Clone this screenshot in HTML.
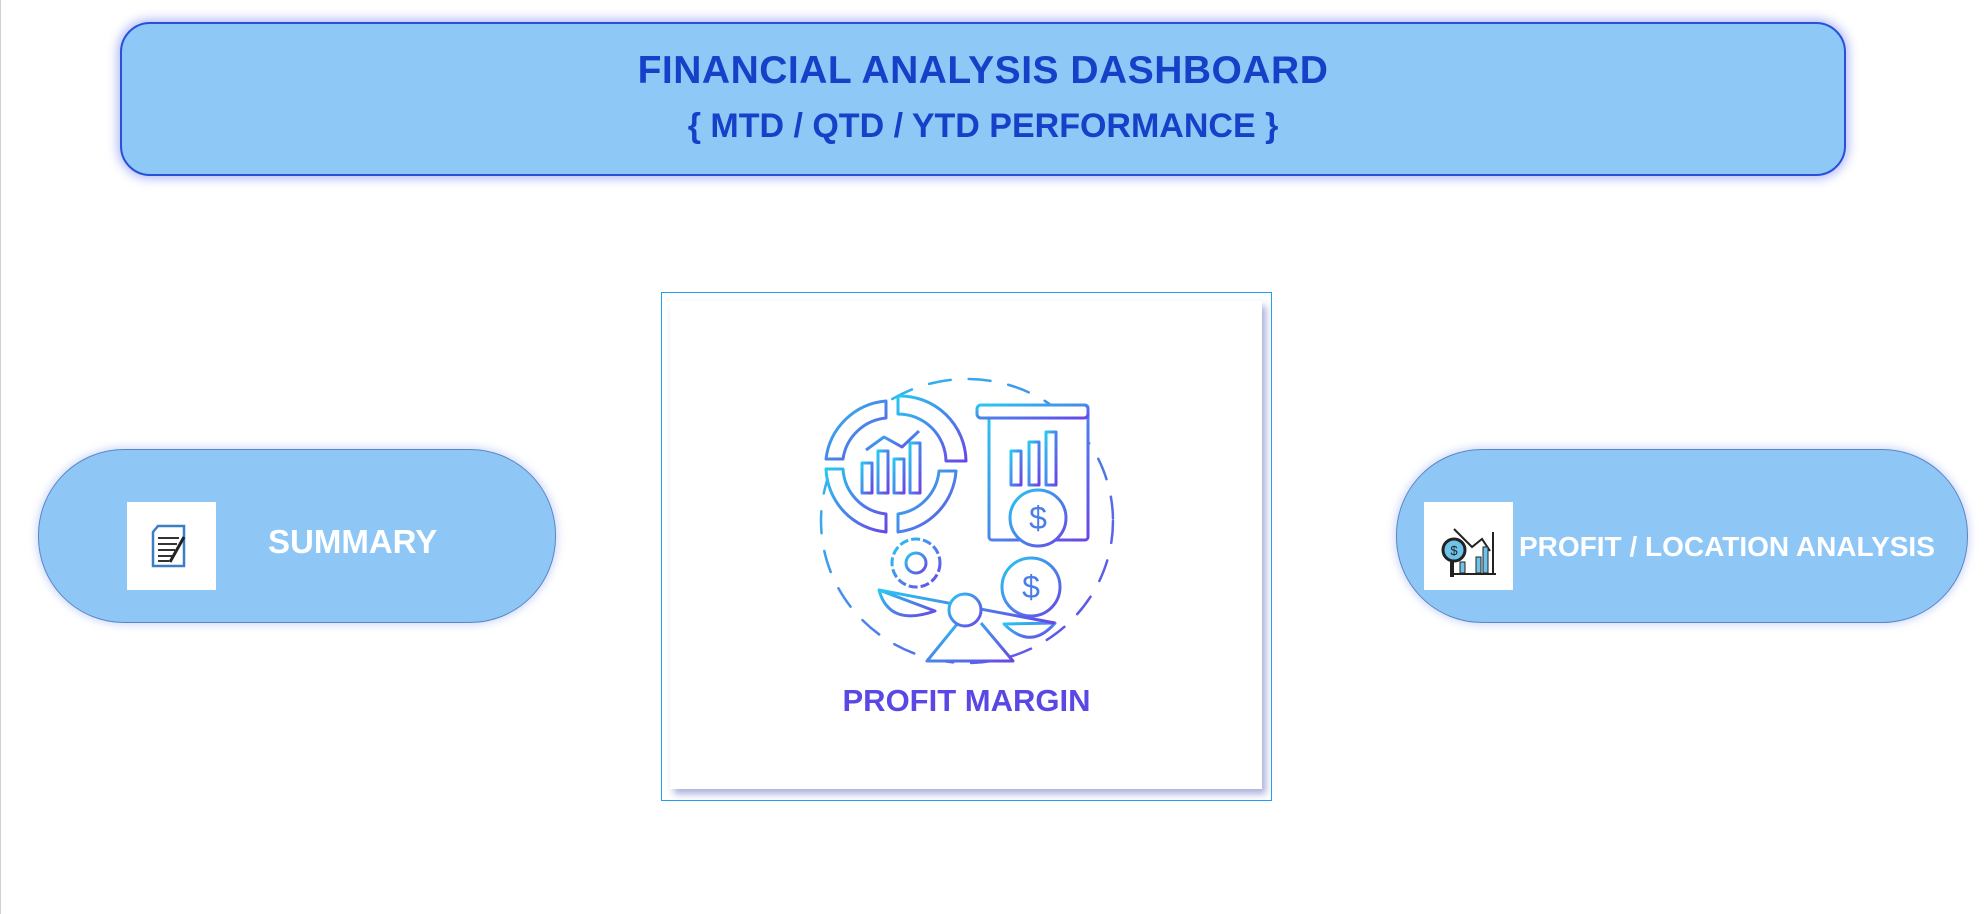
<!DOCTYPE html>
<html><head><meta charset="utf-8">
<style>
html,body{margin:0;padding:0;background:#fff;}
body{width:1988px;height:914px;position:relative;overflow:hidden;font-family:"Liberation Sans",sans-serif;}
.edge{position:absolute;left:0;top:0;width:1px;height:914px;background:#d0d0d0;}
.header{position:absolute;left:120px;top:22px;width:1722px;height:150px;background:#8ec8f6;border:2px solid #2a4fd8;border-radius:30px;box-shadow:0 0 10px 3px rgba(90,110,240,0.45);}
.t1{position:absolute;left:0;width:100%;top:25px;text-align:center;font-weight:bold;font-size:39px;color:#1640c8;letter-spacing:0.5px;}
.t2{position:absolute;left:0;width:100%;top:83px;text-align:center;font-weight:bold;font-size:34px;color:#1640c8;}
.pill{position:absolute;top:449px;height:172px;background:#8ec7f5;border:1.5px solid #5b86c4;border-radius:86px;box-shadow:0 0 8px 2px rgba(120,150,240,0.35);}
.ibox{position:absolute;top:502px;width:89px;height:88px;background:#fff;}
.ptext{position:absolute;color:#fff;font-weight:bold;}
.card{position:absolute;left:661px;top:292px;width:609px;height:507px;border:1.5px solid #1ea0f0;background:#fff;}
.inner{position:absolute;left:8px;top:8px;width:592px;height:488px;box-shadow:4px 5px 7px rgba(140,150,210,0.75);background:#fff;}
.pm{position:absolute;left:0;width:100%;top:390px;text-align:center;font-weight:bold;font-size:31px;color:#5a48e4;}
</style></head>
<body>
<div class="edge"></div>
<div class="header">
  <div class="t1">FINANCIAL ANALYSIS DASHBOARD</div>
  <div class="t2">{ MTD / QTD / YTD PERFORMANCE }</div>
</div>

<div class="pill" style="left:38px;width:516px;">
</div>
<div class="ibox" style="left:127px;">
  <svg width="89" height="88" viewBox="0 0 89 88">
    <path d="M26 30 L31 24 L57 24 L57 64 L26 64 Z" fill="none" stroke="#3a7fc4" stroke-width="2.5"/>
    <g stroke="#333" stroke-width="2"><line x1="31" y1="36" x2="52" y2="36"/><line x1="31" y1="42" x2="50" y2="42"/><line x1="31" y1="48" x2="48" y2="48"/><line x1="31" y1="54" x2="45" y2="54"/><line x1="31" y1="59" x2="42" y2="59"/></g>
    <line x1="43" y1="60" x2="57" y2="35" stroke="#222" stroke-width="3"/>
  </svg>
</div>
<div class="ptext" style="left:268px;top:523px;font-size:33px;">SUMMARY</div>

<div class="pill" style="left:1396px;width:570px;"></div>
<div class="ibox" style="left:1424px;">
  <svg width="89" height="88" viewBox="0 0 89 88">
    <polyline points="30,27 48,45 58,37 66,49" fill="none" stroke="#222" stroke-width="2"/>
    <line x1="69" y1="30" x2="69" y2="71" stroke="#222" stroke-width="2"/>
    <rect x="36" y="60" width="5" height="11" fill="#6ec3ea" stroke="#222"/>
    <rect x="52" y="55" width="5" height="16" fill="#6ec3ea" stroke="#222"/>
    <rect x="59" y="45" width="5" height="26" fill="#6ec3ea" stroke="#222"/>
    <line x1="30" y1="72" x2="72" y2="72" stroke="#222" stroke-width="2"/>
    <circle cx="30" cy="48" r="11" fill="#6ec3ea" stroke="#222" stroke-width="3"/>
    <text x="30" y="53" font-size="13" text-anchor="middle" fill="#222" font-family="Liberation Sans">$</text>
    <line x1="28" y1="60" x2="28" y2="75" stroke="#222" stroke-width="4"/>
  </svg>
</div>
<div class="ptext" style="left:1519px;top:531px;font-size:28px;">PROFIT / LOCATION ANALYSIS</div>

<div class="card">
  <div class="inner"></div>
  <svg style="position:absolute;left:0;top:0" width="609" height="507" viewBox="661 292 609 507">
    <defs><linearGradient id="g" x1="0" y1="0" x2="1" y2="1">
      <stop offset="0" stop-color="#27c8f0"/><stop offset="1" stop-color="#6a45e6"/></linearGradient></defs>
    <g fill="none" stroke="url(#g)" stroke-width="3" stroke-linecap="round">
      <ellipse cx="966" cy="520" rx="146" ry="142" stroke-dasharray="22 18" stroke-width="2.5"/>
    </g>
    <g fill="#fff" stroke="url(#g)" stroke-width="3" stroke-linejoin="round">
      <path d="M885 400 A66 66 0 0 0 825 458 L842 458 A48 48 0 0 1 885 417 Z"/>
      <path d="M825 468 A66 66 0 0 0 885 531 L885 513 A48 48 0 0 1 842 468 Z"/>
      <path d="M897 531 A66 66 0 0 0 955 470 L938 470 A48 48 0 0 1 897 513 Z"/>
      <path d="M897 395 A66 66 0 0 1 965 460 L945 460 A48 48 0 0 0 897 413 Z"/>
      <rect x="861" y="462" width="10" height="30"/><rect x="877" y="450" width="10" height="42"/><rect x="893" y="458" width="10" height="34"/><rect x="909" y="442" width="10" height="50"/>
      <polyline points="865,449 883,436 901,446 918,430" fill="none"/>
      <rect x="988" y="404" width="99" height="135" rx="3"/>
      <rect x="976" y="404" width="111" height="13" rx="4"/>
      <line x1="988" y1="496" x2="1087" y2="496"/>
      <circle cx="1037" cy="517" r="28"/>
      <rect x="1010" y="450" width="10" height="34"/><rect x="1028" y="441" width="10" height="43"/><rect x="1045" y="431" width="10" height="53"/>
      <line x1="1000" y1="485" x2="1067" y2="485"/>
      <circle cx="915" cy="562" r="24" stroke-dasharray="9 3"/>
      <circle cx="915" cy="562" r="10"/>
      <circle cx="1030" cy="586" r="29"/>
      <path d="M878 589 Q888 626 934 610 Z"/>
      <path d="M1003 623 Q1030 650 1054 622 Z"/>
      <line x1="878" y1="589" x2="1054" y2="622"/>
      <path d="M957 622 L926 660 L1012 660 L980 622"/>
      <circle cx="964" cy="609" r="16"/>
    </g>
    <g font-family="Liberation Sans" font-size="32" fill="#4a7de8" text-anchor="middle">
      <text x="1037" y="528">$</text><text x="1030" y="597">$</text>
    </g>
  </svg>
  <div class="pm">PROFIT MARGIN</div>
</div>
</body></html>
